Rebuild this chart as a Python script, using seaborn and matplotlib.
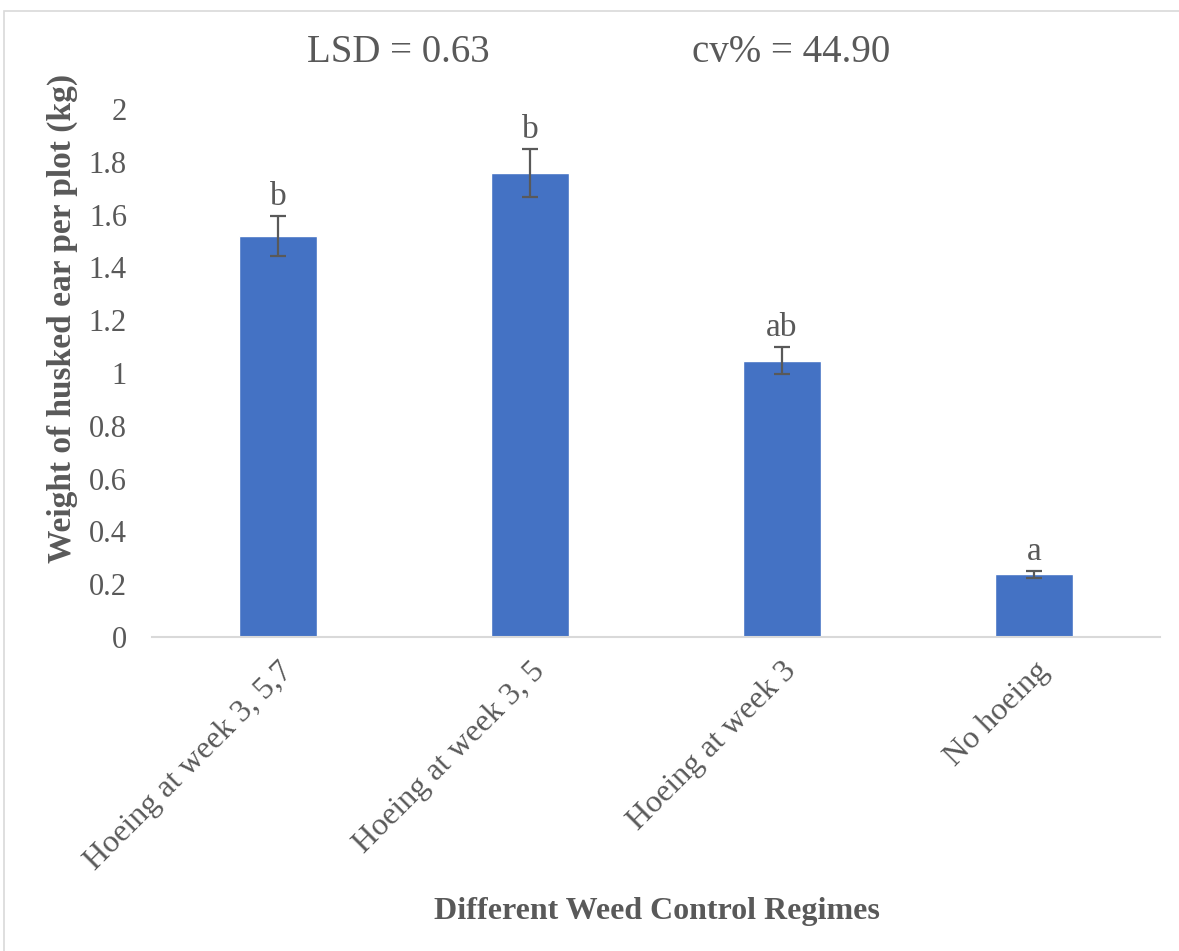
import matplotlib
matplotlib.use("Agg")
import matplotlib.pyplot as plt
import seaborn as sns
import pandas as pd
from matplotlib.patches import Rectangle

# Treatment means, standard errors and significance letters
regimes = ["Hoeing at week 3, 5,7", "Hoeing at week 3, 5", "Hoeing at week 3", "No hoeing"]
weights = [1.52, 1.757, 1.047, 0.237]
errors = [0.075, 0.09, 0.052, 0.012]
letters = ["b", "b", "ab", "a"]
y_ticks = [0, 0.2, 0.4, 0.6, 0.8, 1, 1.2, 1.4, 1.6, 1.8, 2]
lsd_text = "LSD = 0.63"
cv_text = "cv% = 44.90"

sns.set_theme(style="white")
plt.rcParams["font.family"] = ["Liberation Serif", "DejaVu Serif"]

text_grey = "#595959"
bar_blue = "#4472C4"

df = pd.DataFrame({"regime": regimes, "weight": weights})

fig = plt.figure(figsize=(11.79, 9.51), dpi=100)
fig.patches.append(Rectangle((4 / 1179, -0.1), 1.2, 1 - 11 / 951 + 0.1,
                             transform=fig.transFigure, fill=False,
                             edgecolor="#D9D9D9", linewidth=1.2))
ax = fig.add_axes([152 / 1179, 1 - 637 / 951, 1008 / 1179, 528 / 951])

sns.barplot(data=df, x="regime", y="weight", color=bar_blue, saturation=1,
            width=0.31, errorbar=None, ax=ax)
ax.errorbar(range(len(regimes)), weights, yerr=errors, fmt="none",
            ecolor=text_grey, elinewidth=1.6, capsize=6, capthick=1.6)

for i, (w, e, lab) in enumerate(zip(weights, errors, letters)):
    ax.annotate(lab, (i, w + e), xytext=(0, 3), textcoords="offset points",
                ha="center", va="bottom", fontsize=24, color=text_grey)

ax.set_xlim(-0.5, 3.5)
ax.set_ylim(0, 2)
ax.set_yticks(y_ticks)
ax.set_yticklabels([f"{t:g}" for t in y_ticks])
ax.tick_params(axis="y", labelsize=22, colors=text_grey, length=0, pad=18)
ax.tick_params(axis="x", labelsize=23, colors=text_grey, length=0, pad=14)
for lbl in ax.get_xticklabels():
    lbl.set_rotation(45)
    lbl.set_ha("right")
    lbl.set_rotation_mode("anchor")

for side in ["top", "right", "left"]:
    ax.spines[side].set_visible(False)
ax.spines["bottom"].set_color("#D9D9D9")
ax.spines["bottom"].set_linewidth(1.5)

ax.set_ylabel("Weight of husked ear per plot (kg)", fontsize=24,
              fontweight="bold", color=text_grey, va="center")
ax.yaxis.set_label_coords(-0.089, 0.604)
ax.set_xlabel("Different Weed Control Regimes", fontsize=23,
              fontweight="bold", color=text_grey, va="center")
ax.xaxis.set_label_coords(0.501, -0.52)

fig.text(398 / 1179, 1 - 52 / 951, lsd_text, ha="center", va="center",
         fontsize=28, color=text_grey)
fig.text(791 / 1179, 1 - 52 / 951, cv_text, ha="center", va="center",
         fontsize=28, color=text_grey)

fig.savefig("out.png", dpi=100, facecolor="white")
